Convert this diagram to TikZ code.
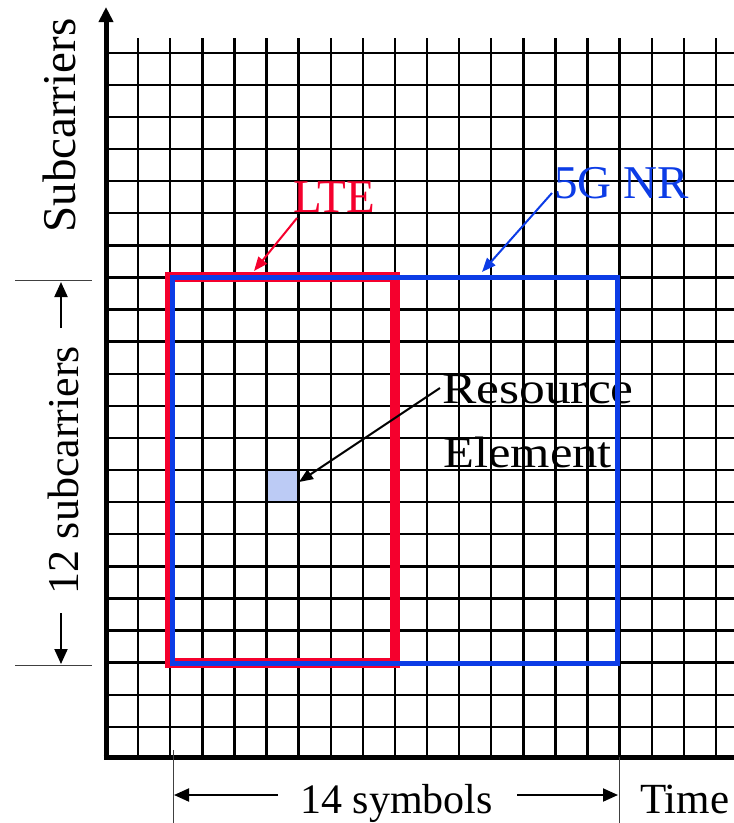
\documentclass[tikz,border=0pt]{standalone}
\usepackage{fontspec}
\setmainfont{Liberation Serif}
\usetikzlibrary{arrows.meta}
\definecolor{ltered}{RGB}{245,0,45}
\definecolor{nrblue}{RGB}{12,60,230}
\definecolor{refill}{RGB}{188,203,245}
\begin{document}
\begin{tikzpicture}[x=1pt,y=-1pt,
  gridline/.style={line width=2.4pt, black},
  axisline/.style={line width=5pt, black},
  dimline/.style={line width=0.9pt, black!75},
  dimarrow/.style={line width=2pt, -{Triangle[length=15pt,width=13pt]}},
  callout/.style={line width=2pt, -{Triangle[length=14pt,width=11pt]}},
  lbl/.style={inner sep=0pt, font=\fontsize{45}{54}\selectfont},
]
\useasboundingbox (0,0) rectangle (734,823);
\clip (0,0) rectangle (734,823);
% resource element cell
\fill[refill] ({106+32.1*5},{52.7+32.1*13}) rectangle ({106+32.1*6},{52.7+32.1*14});
% grid
\foreach \k in {1,...,20} \draw[gridline] ({106+32.1*\k},38) -- ({106+32.1*\k},757);
\foreach \k in {0,...,21} \draw[gridline] (106,{52.7+32.1*\k}) -- (740,{52.7+32.1*\k});
% resource element label
\node[anchor=base west, inner sep=0pt, font=\fontsize{44}{50}\selectfont] (re1) at (442,403) {\scalebox{1.17}[1]{Resource}};
\node[anchor=base west, inner sep=0pt, font=\fontsize{44}{50}\selectfont] (re2) at (443,467) {\scalebox{1.15}[1]{Element}};
% LTE and NR boxes
\draw[ltered, line width=10pt] (170.2,277.4) rectangle (394.9,662.6);
\draw[nrblue, line width=5pt] (172.7,277.8) rectangle (617,663.8);
% axes
\draw[axisline, -{Triangle[length=15pt,width=14pt]}] (106,759.5) -- (106,7);
\draw[axisline] (103.5,757) -- (740,757);
\node[lbl, font=\fontsize{47}{54}\selectfont, rotate=90, anchor=base] (ylab) at (75,125.5) {Subcarriers};
% callouts
\node[lbl, font=\fontsize{47}{54}\selectfont, anchor=base west, text=ltered] (lte) at (293,212.7) {LTE};
\node[lbl, font=\fontsize{47}{54}\selectfont, anchor=base west, text=nrblue] (nr) at (554,198) {5G NR};
\coordinate (lteTail) at (297,218);
\coordinate (lteTip) at (254,271);
\draw[callout, ltered] (lteTail) -- (lteTip);
\coordinate (nrTail) at (552,193);
\coordinate (nrTip) at (482,272);
\draw[callout, nrblue] (nrTail) -- (nrTip);
\coordinate (reTail) at (440,388);
\coordinate (reTip) at (299,482);
\draw[callout, black] (reTail) -- (reTip);
% left dimension (12 subcarriers)
\coordinate (lt1) at (15,280.7); \coordinate (lt2) at (92,280.7);
\coordinate (lb1) at (15,665); \coordinate (lb2) at (92,665);
\draw[dimline] (lt1) -- (lt2);
\draw[dimline] (lb1) -- (lb2);
\coordinate (la1) at (61,328); \coordinate (la1t) at (61,282);
\coordinate (la2) at (61,613); \coordinate (la2t) at (61,664);
\draw[dimarrow] (la1) -- (la1t);
\draw[dimarrow] (la2) -- (la2t);
\node[lbl, font=\fontsize{44}{54}\selectfont, rotate=90, anchor=base] (sub12) at (78,470) {12 subcarriers};
% bottom dimension (14 symbols)
\coordinate (bl1) at (173,750); \coordinate (bl2) at (173,823);
\coordinate (br1) at (619,757); \coordinate (br2) at (619,823);
\draw[dimline] (bl1) -- (bl2);
\draw[dimline] (br1) -- (br2);
\coordinate (ba1) at (278,795); \coordinate (ba1t) at (174,795);
\coordinate (ba2) at (517,795); \coordinate (ba2t) at (618,795);
\draw[dimarrow] (ba1) -- (ba1t);
\draw[dimarrow] (ba2) -- (ba2t);
\node[lbl, font=\fontsize{42}{50}\selectfont, anchor=base] (sym14) at (396.5,813) {14 symbols};
\node[lbl, font=\fontsize{43}{50}\selectfont, anchor=base west] (time) at (640,813) {Time};
\end{tikzpicture}
\end{document}
